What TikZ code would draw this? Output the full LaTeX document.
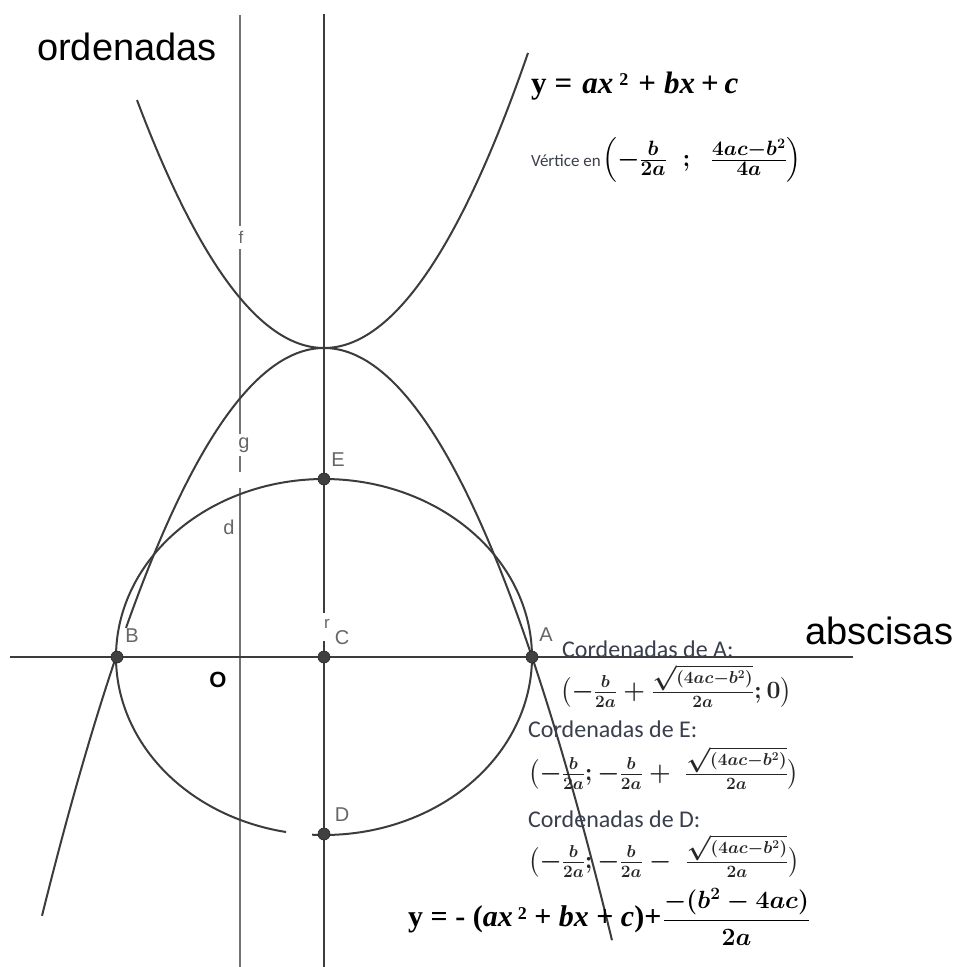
\documentclass[tikz,border=0pt]{standalone}
\usepackage{amsmath}
\usepackage{fontspec}
\setmainfont{Liberation Serif}
\setsansfont{Liberation Sans}
\newfontfamily\calib{Carlito}
\definecolor{txtc}{HTML}{3A3F4E}
\definecolor{linec}{HTML}{3C3C3C}
\begin{document}
\begin{tikzpicture}[x=1pt,y=-1pt,
  mainaxis/.style={draw=linec, line width=2.6pt},
  thinaxis/.style={draw=black!55, line width=1.6pt},
  curve/.style={draw=linec, line width=2pt},
  dot/.style={circle, fill=black!75, draw=black!85, line width=0.6pt, inner sep=0pt, minimum size=12pt},
  ptlabel/.style={font=\sffamily\fontsize{20}{20}\selectfont, text=black!60, inner sep=1pt},
  smalllabel/.style={font=\sffamily\fontsize{17}{17}\selectfont, text=black!60, inner sep=1pt},
  biglabel/.style={font=\sffamily\fontsize{38}{40}\selectfont, text=black, anchor=west, inner sep=0pt},
  coordtxt/.style={font=\calib\fontsize{24}{26}\selectfont, text=txtc, anchor=west, inner sep=0pt},
  mathtxt/.style={font=\fontsize{24}{26}\selectfont\boldmath, text=black!85, anchor=west, inner sep=0pt}
]
\useasboundingbox (0,0) rectangle (956,967);
\fill[white] (0,0) rectangle (956,967);

% axes and vertical lines
\coordinate (xl) at (10,657);
\coordinate (xr) at (853,657);
\coordinate (ct) at (324,14);
\coordinate (cg1) at (324,613);
\coordinate (cg2) at (324,641);
\coordinate (cb) at (324,967);
\coordinate (ft) at (240,15);
\coordinate (f1) at (240,226);
\coordinate (f2) at (240,249);
\coordinate (g1) at (240,434);
\coordinate (g2) at (240,456);
\coordinate (g3) at (240,472);
\coordinate (g4) at (240,488);
\coordinate (fb) at (240,967);

\draw[thinaxis] (ft) -- (f1);
\draw[thinaxis] (f2) -- (g1);
\draw[thinaxis] (g2) -- (g3);
\draw[thinaxis] (g4) -- (fb);
\draw[mainaxis] (xl) -- (xr);
\draw[mainaxis] (ct) -- (cg1);
\draw[mainaxis] (cg2) -- (cb);

% upward parabola
\draw[curve] plot[domain=137:528, samples=120, smooth] (\x, {348-70.9*((\x-324)/100)^2});
% downward parabola
\draw[curve] plot[domain=42:117, samples=40, smooth] (\x, {348+71.4*((\x-324)/100)^2});
\draw[curve] plot[domain=126:612, samples=160, smooth] (\x, {348+71.4*((\x-324)/100)^2});
% ellipse (circle) with small gap at the bottom
\draw[curve] plot[domain=100.5:453.3, samples=180, smooth] ({324+208*cos(\x)}, {657+178*sin(\x)});

% points
\node[dot] (B) at (117,657) {};
\node[dot] (C) at (324,657) {};
\node[dot] (A) at (532,657) {};
\node[dot] (E) at (324,479) {};
\node[dot] (D) at (324,834) {};

\node[ptlabel] (lB) at (132,636) {B};
\node[ptlabel] (lC) at (342,638) {C};
\node[ptlabel] (lA) at (546,635) {A};
\node[ptlabel] (lE) at (338,460) {E};
\node[ptlabel] (lD) at (342,815) {D};
\node[smalllabel] (lf) at (241,237) {f};
\node[ptlabel] (lg) at (244,445) {g};
\node[ptlabel] (ld) at (229,527) {d};
\node[smalllabel] (lr) at (327,624) {r};
\node[font=\sffamily\bfseries\fontsize{22}{22}\selectfont, inner sep=0pt] (lO) at (218,680) {O};

% axis names
\node[biglabel] (ord) at (37,47) {ordenadas};
\node[biglabel] (abs) at (805,631) {abscisas};

% top equation
\node[anchor=west, inner sep=0pt, font=\fontsize{31}{33}\selectfont\bfseries] (eq1) at (531,86)
  {y\hspace{8pt}=\hspace{10pt}\textit{ax}\hspace{6pt}\raisebox{0.55ex}{\fontsize{18}{18}\selectfont 2}\hspace{10pt}+\hspace{8pt}\textit{bx}\hspace{6pt}+\hspace{6pt}\textit{c}};
\node[anchor=west, inner sep=0pt] (vert) at (531,160)
  {{\calib\fontsize{17}{18}\selectfont\color{txtc}Vértice en}\,{\fontsize{28}{30}\selectfont\boldmath$\Bigl(-\frac{b}{2a}\;\;;\;\;\frac{4ac-b^2}{4a}\Bigr)$}};

% coordinates
\node[coordtxt] (cA) at (562,649) {Cordenadas de A:};
\node[mathtxt] (mA) at (560,686) {$\bigl(-\frac{b}{2a}+\frac{\sqrt{(4ac-b^2)}}{2a};0\bigr)$};
\node[coordtxt] (cE) at (528,729) {Cordenadas de E:};
\node[mathtxt] (mE) at (528,768) {$\bigl(-\frac{b}{2a};-\frac{b}{2a}+\;\frac{\sqrt{(4ac-b^2)}}{2a}\bigr)$};
\node[coordtxt] (cD) at (528,819) {Cordenadas de D:};
\node[mathtxt] (mD) at (528,856) {$\bigl(-\frac{b}{2a};-\frac{b}{2a}-\;\frac{\sqrt{(4ac-b^2)}}{2a}\bigr)$};

% bottom equation
\node[anchor=west, inner sep=0pt] (eq2) at (408,917)
  {{\fontsize{30}{32}\selectfont\bfseries y = - (\textit{ax}\,\raisebox{0.55ex}{\fontsize{18}{18}\selectfont 2} + \textit{bx} + \textit{c})+}\,{\fontsize{24}{26}\selectfont\boldmath$\dfrac{-(b^2-4ac)}{2a}$}};
\end{tikzpicture}
\end{document}
